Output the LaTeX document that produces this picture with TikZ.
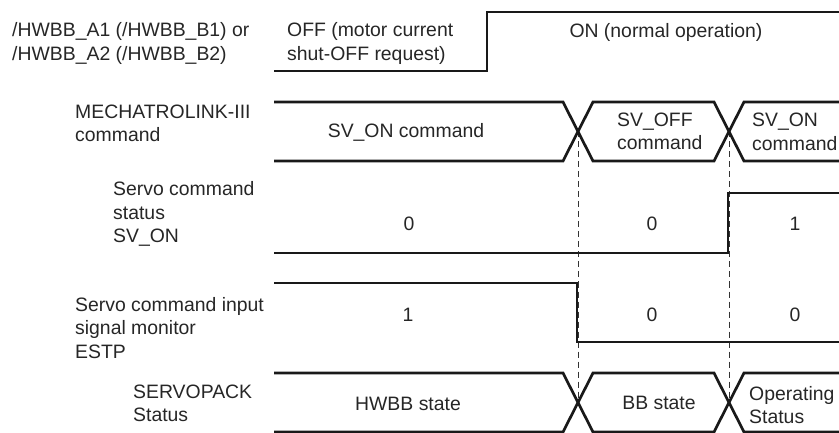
\documentclass[tikz,border=0pt]{standalone}
\usepackage{fontspec}
\setmainfont{Liberation Sans}
\begin{document}
\begin{tikzpicture}[x=1pt,y=-1pt,
  every node/.style={font=\fontsize{19.4}{23.5}\selectfont, text=black!85, inner sep=0pt},
  lbl/.style={anchor=west, align=left},
  wave/.style={line width=2.7pt, black!90, line join=miter},
  guide/.style={line width=0.9pt, black!80, dash pattern=on 6pt off 4pt}]
\useasboundingbox (0,0) rectangle (839,433);

% signal names
\node[lbl] (hwbb) at (12,43.5) {/HWBB\_A1 (/HWBB\_B1) or\\/HWBB\_A2 (/HWBB\_B2)};
\node[lbl] (mlink) at (75,123.5) {MECHATROLINK-III\\command};
\node[lbl] (svon) at (113,214) {Servo command\\status\\SV\_ON};
\node[lbl] (estp) at (75,328) {Servo command input\\signal monitor\\ESTP};
\node[lbl] (spack) at (133,403.5) {SERVOPACK\\Status};

% crossing points
\coordinate (xa) at (578,131.5);
\coordinate (xb) at (729,131.5);
\coordinate (ya) at (578,402.5);
\coordinate (yb) at (729,402.5);
\draw[guide] (xa) -- (ya);
\draw[guide] (xb) -- (yb);

% waveforms
\draw[wave] (274,71) -- (487,71) -- (487,12) -- (845,12);
\draw[wave] (274,102) -- (563,102) -- (593,161) -- (714,161) -- (744,102) -- (845,102);
\draw[wave] (274,161) -- (563,161) -- (593,102) -- (714,102) -- (744,161) -- (845,161);
\draw[wave] (274,253) -- (728,253) -- (728,193) -- (845,193);
\draw[wave] (274,283) -- (577,283) -- (577,342) -- (845,342);
\draw[wave] (274,373) -- (563,373) -- (593,432) -- (714,432) -- (744,373) -- (845,373);
\draw[wave] (274,432) -- (563,432) -- (593,373) -- (714,373) -- (744,432) -- (845,432);

% values
\node[lbl] (off) at (287,43.5) {OFF (motor current\\shut-OFF request)};
\node (on) at (666,32) {ON (normal operation)};
\node (cmdon) at (406,132) {SV\_ON command};
\node[lbl] (cmdoff) at (617,131.5) {SV\_OFF\\command};
\node[lbl] (cmdon2) at (752,132) {SV\_ON\\command};
\node (sa) at (409,224) {0};
\node (sb) at (652,224) {0};
\node (sc) at (795,224) {1};
\node (ea) at (408,315) {1};
\node (eb) at (652,315) {0};
\node (ec) at (795,315) {0};
\node (hwbbst) at (408,404) {HWBB state};
\node (bbst) at (659,403) {BB state};
\node[lbl] (opst) at (749,405) {Operating\\Status};
\end{tikzpicture}
\end{document}
